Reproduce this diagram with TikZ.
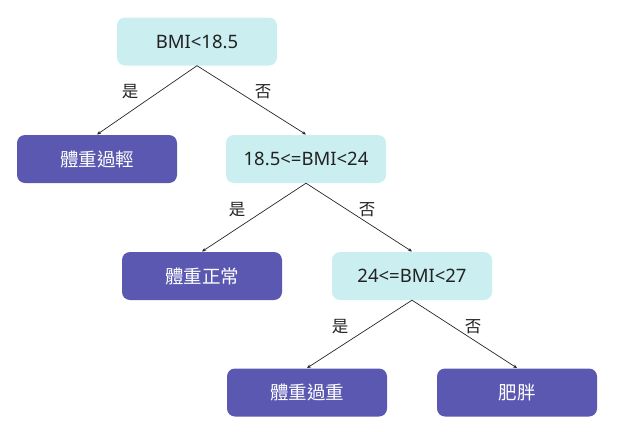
\documentclass[tikz,border=0pt]{standalone}
\usepackage{fontspec}
\setmainfont{Noto Sans}
\newfontfamily\cjk{Noto Sans CJK TC}
\usetikzlibrary{arrows.meta}
\definecolor{condcol}{HTML}{CBEEF1}
\definecolor{leafcol}{HTML}{5B58B2}
\definecolor{txtcol}{HTML}{222222}
\tikzset{
  cond/.style={fill=condcol, draw=none, rounded corners=8pt, minimum width=160pt, minimum height=48pt, text=txtcol, font=\fontsize{18.5}{22}\selectfont, inner sep=0pt},
  leaf/.style={fill=leafcol, draw=none, rounded corners=8pt, minimum width=160pt, minimum height=48pt, text=white, font=\cjk\fontsize{18.5}{22}\selectfont, inner sep=0pt},
  edge/.style={draw=black!85, line width=0.7pt, -{Stealth[length=4pt,width=3.5pt]}},
  lab/.style={font=\cjk\fontsize{16.5}{20}\selectfont, text=txtcol, inner sep=0pt}
}
\begin{document}
\begin{tikzpicture}[x=1pt,y=-1pt]
\useasboundingbox (0,0) rectangle (618,431);
\node[cond] (c1) at (197,41.5) {BMI<18.5};
\node[leaf] (l1) at (97,159) {體重過輕};
\node[cond] (c2) at (306,159) {18.5<=BMI<24};
\node[leaf] (l2) at (202,276) {體重正常};
\node[cond] (c3) at (412,276) {24<=BMI<27};
\node[leaf] (l3) at (307,392.5) {體重過重};
\node[leaf] (l4) at (517,392.5) {肥胖};
\coordinate (t1) at (97,134.5);
\coordinate (t2) at (306,134.5);
\coordinate (t3) at (202,251.5);
\coordinate (t4) at (412,251.5);
\coordinate (t5) at (307,368);
\coordinate (t6) at (517,368);
\draw[edge] (c1.south) -- (t1);
\draw[edge] (c1.south) -- (t2);
\draw[edge] (c2.south) -- (t3);
\draw[edge] (c2.south) -- (t4);
\draw[edge] (c3.south) -- (t5);
\draw[edge] (c3.south) -- (t6);
\node[lab] (y1) at (130,92) {是};
\node[lab] (n1) at (263,92) {否};
\node[lab] (y2) at (237,210) {是};
\node[lab] (n2) at (367,210) {否};
\node[lab] (y3) at (340,327) {是};
\node[lab] (n3) at (473,327) {否};
\end{tikzpicture}
\end{document}
